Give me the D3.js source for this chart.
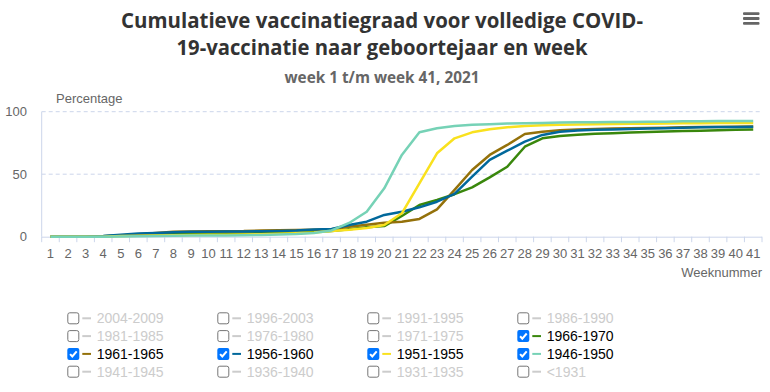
<!DOCTYPE html>
<html>
<head>
<meta charset="utf-8">
<script src="https://cdn.jsdelivr.net/npm/d3@7"></script>
<style>
  html, body { margin: 0; padding: 0; background: #fff; }
  svg { display: block; font-family: "Liberation Sans", Arial, sans-serif; }
</style>
</head>
<body>
<svg id="chart" width="770" height="392"></svg>
<script>
// weken 1 t/m 41
var weeks = d3.range(1, 42);

// cumulatieve vaccinatiegraad (%) per geboortecohort
var s1966_1970 = [0, 0, 0, 0.3, 1, 1.5, 2, 2.3, 2.5, 2.5, 2.5, 2.6, 2.8, 3, 3.2, 3.8, 4.5,
  6, 7.5, 8.5, 16.6, 25.4, 29.4, 34, 39.5, 47.5, 56, 72, 78.7, 80.6, 81.6, 82.3, 82.8,
  83.3, 83.8, 84.2, 84.5, 84.8, 85.2, 85.5, 85.8];
var s1961_1965 = [0, 0, 0, 0.3, 1, 2, 3, 4, 4.2, 4.3, 4.4, 4.5, 5, 5.2, 5.4, 5.6, 6,
  8, 9.5, 11.2, 12, 14.2, 21.9, 37.4, 53.4, 65.4, 73.4, 82.2, 84, 85.2, 85.8, 86.2, 86.5,
  86.8, 87, 87.2, 87.5, 87.7, 87.8, 88, 88.1];
var s1956_1960 = [0, 0, 0, 0.5, 1.5, 2.5, 3, 3.5, 4, 4, 4.1, 4.2, 4.4, 4.6, 5, 5.8, 6.2,
  9.4, 12, 17.4, 20, 23.5, 28, 34.2, 48, 61.4, 68.8, 76, 81.4, 84, 85, 85.5, 85.8,
  86.2, 86.5, 86.8, 87.2, 87.5, 87.7, 87.8, 88];
var s1951_1955 = [0, 0, 0, 0, 0.5, 0.8, 1, 1.2, 1.4, 1.5, 1.6, 1.8, 2, 2.4, 2.8, 3.3, 4.5,
  5.5, 7, 9.4, 18.7, 42.7, 66.7, 78.7, 83.5, 85.9, 87.6, 88.6, 89.2, 89.6, 89.8, 90, 90.1,
  90.3, 90.4, 90.5, 90.7, 90.8, 90.9, 91, 91];
var s1946_1950 = [0, 0, 0, 0, 0.2, 0.4, 0.6, 0.8, 1, 1, 1, 1.2, 1.4, 1.8, 2.2, 3, 5,
  11, 20, 38.7, 65.4, 83.5, 86.7, 88.5, 89.5, 90, 90.5, 90.8, 91, 91.3, 91.5, 91.6, 91.7,
  91.8, 91.9, 92, 92.3, 92.4, 92.5, 92.5, 92.6];

var yTicks = [0, 50, 100];

// legenda: alle cohorten, 4 kolommen
var legendLabels = ["2004-2009", "1996-2003", "1991-1995", "1986-1990",
  "1981-1985", "1976-1980", "1971-1975", "1966-1970",
  "1961-1965", "1956-1960", "1951-1955", "1946-1950",
  "1941-1945", "1936-1940", "1931-1935", "<1931"];

var series = [
  { name: "1966-1970", color: "#39870c", values: s1966_1970 },
  { name: "1961-1965", color: "#94710a", values: s1961_1965 },
  { name: "1956-1960", color: "#01689b", values: s1956_1960 },
  { name: "1951-1955", color: "#f9e11e", values: s1951_1955 },
  { name: "1946-1950", color: "#76d2b6", values: s1946_1950 }
];

var svg = d3.select("#chart"),
  plot = { left: 41.7, right: 762, top: 111.7, bottom: 236.7 };

var xScale = d3.scaleBand().domain(weeks).range([plot.left, plot.right]).padding(0);
var yScale = d3.scaleLinear().domain([0, 100]).range([plot.bottom, plot.top]);

// titel
svg.append("text")
  .attr("x", 382).attr("y", 27.5)
  .attr("text-anchor", "middle")
  .attr("textLength", 522).attr("lengthAdjust", "spacingAndGlyphs")
  .attr("fill", "#333")
  .style("font-family", "'Open Sans', sans-serif")
  .style("font-size", "22px").style("font-weight", "bold")
  .text("Cumulatieve vaccinatiegraad voor volledige COVID-");
svg.append("text")
  .attr("x", 382).attr("y", 55)
  .attr("text-anchor", "middle")
  .attr("textLength", 411).attr("lengthAdjust", "spacingAndGlyphs")
  .attr("fill", "#333")
  .style("font-family", "'Open Sans', sans-serif")
  .style("font-size", "22px").style("font-weight", "bold")
  .text("19-vaccinatie naar geboortejaar en week");
svg.append("text")
  .attr("x", 382).attr("y", 83.3)
  .attr("text-anchor", "middle")
  .attr("textLength", 195).attr("lengthAdjust", "spacingAndGlyphs")
  .attr("fill", "#666")
  .style("font-family", "'Open Sans', sans-serif")
  .style("font-size", "16px").style("font-weight", "bold")
  .text("week 1 t/m week 41, 2021");

// menu-knop
svg.append("g").selectAll("rect")
  .data([0, 1, 2])
  .join("rect")
  .attr("x", 743).attr("y", function (d) { return 12.3 + d * 4.8; })
  .attr("width", 16.5).attr("height", 2.8)
  .attr("rx", 1)
  .attr("fill", "#666");

// rasterlijnen
svg.append("g").selectAll("line")
  .data(yTicks.filter(function (d) { return d > 0; }))
  .join("line")
  .attr("x1", plot.left).attr("x2", plot.right)
  .attr("y1", function (d) { return yScale(d); })
  .attr("y2", function (d) { return yScale(d); })
  .attr("stroke", "#ccd6eb")
  .attr("stroke-dasharray", "4,3");

// y-as
svg.append("line")
  .attr("x1", plot.left).attr("x2", plot.left)
  .attr("y1", plot.top).attr("y2", plot.bottom)
  .attr("stroke", "#ccd6eb");
svg.append("g").selectAll("text")
  .data(yTicks)
  .join("text")
  .attr("x", 27).attr("y", function (d) { return yScale(d) + 4.5; })
  .attr("text-anchor", "end")
  .attr("fill", "#666")
  .style("font-size", "13px")
  .text(function (d) { return d; });
svg.append("text")
  .attr("x", 56).attr("y", 103)
  .attr("fill", "#666")
  .style("font-size", "13px")
  .text("Percentage");

// x-as met tickmarks tussen de categorieën
var xAxis = d3.axisBottom(xScale).tickSize(0).tickPadding(0);
var xg = svg.append("g")
  .attr("transform", "translate(0," + plot.bottom + ")")
  .call(xAxis);
xg.select(".domain").attr("stroke", "#ccd6eb").attr("d", "M" + plot.left + ",0.5H" + plot.right);
xg.selectAll("text")
  .attr("y", 21.5)
  .attr("dy", null)
  .attr("fill", "#666")
  .style("font-size", "13px")
  .style("font-family", "'Liberation Sans', Arial, sans-serif");
svg.append("g").selectAll("line")
  .data(weeks.concat([42]))
  .join("line")
  .attr("x1", function (d) { return d === 42 ? plot.right : xScale(d); })
  .attr("x2", function (d) { return d === 42 ? plot.right : xScale(d); })
  .attr("y1", plot.bottom).attr("y2", plot.bottom + 5.5)
  .attr("stroke", "#ccd6eb");
svg.append("text")
  .attr("x", 762).attr("y", 277)
  .attr("text-anchor", "end")
  .attr("fill", "#666")
  .style("font-size", "13px")
  .text("Weeknummer");

// lijnen
var lineGenerator = d3.line()
  .x(function (d, i) { return xScale(weeks[i]) + xScale.bandwidth() / 2; })
  .y(function (d) { return yScale(d); });

svg.append("g").selectAll("path")
  .data(series)
  .join("path")
  .attr("fill", "none")
  .attr("stroke", function (d) { return d.color; })
  .attr("stroke-width", 2.5)
  .attr("stroke-linejoin", "round")
  .attr("d", function (d) { return lineGenerator(d.values); });

// legenda
var colorOf = {};
series.forEach(function (s) { colorOf[s.name] = s.color; });

var item = svg.append("g").selectAll("g")
  .data(legendLabels)
  .join("g")
  .attr("transform", function (d, i) {
    return "translate(" + (67.3 + (i % 4) * 150) + "," + (312.3 + Math.floor(i / 4) * 17.8) + ")";
  });

item.append("rect")
  .attr("x", function (d) { return colorOf[d] ? 0 : 0.5; })
  .attr("y", function (d) { return colorOf[d] ? 0 : 0.5; })
  .attr("width", function (d) { return colorOf[d] ? 12 : 11; })
  .attr("height", function (d) { return colorOf[d] ? 12 : 11; })
  .attr("rx", 2)
  .attr("fill", function (d) { return colorOf[d] ? "#0075ff" : "#fff"; })
  .attr("stroke", function (d) { return colorOf[d] ? "none" : "#767676"; });

item.filter(function (d) { return colorOf[d]; })
  .append("path")
  .attr("d", "M2.8,6.2L5,8.6L9.4,3.4")
  .attr("fill", "none")
  .attr("stroke", "#fff")
  .attr("stroke-width", 2);

item.append("line")
  .attr("x1", 15).attr("x2", 23.7)
  .attr("y1", 6).attr("y2", 6)
  .attr("stroke", function (d) { return colorOf[d] || "#ccc"; })
  .attr("stroke-width", 2);

item.append("text")
  .attr("x", 29.4).attr("y", 11)
  .attr("fill", function (d) { return colorOf[d] ? "#000" : "#ccc"; })
  .style("font-size", "14px")
  .text(function (d) { return d; });
</script>
</body>
</html>
